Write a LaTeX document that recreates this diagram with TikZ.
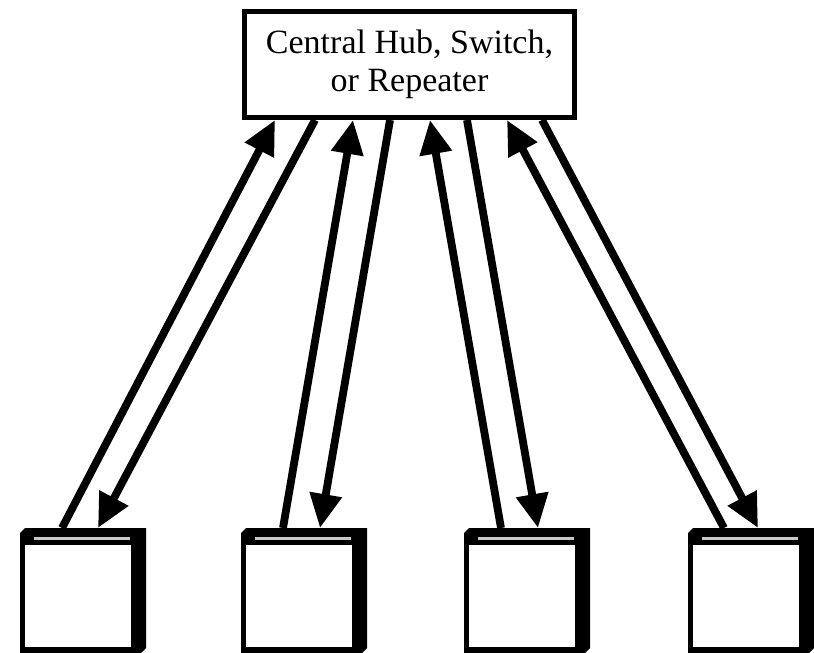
\documentclass[tikz,border=0pt]{standalone}
\usepackage{fontspec}
\setmainfont{Liberation Serif}
\usetikzlibrary{arrows.meta,calc}
\begin{document}
\begin{tikzpicture}[x=1pt,y=-1pt,
  hubbox/.style={draw=black,line width=5pt,fill=white,minimum width=330pt,minimum height=106pt,inner sep=0pt,align=center,font=\fontsize{34}{38}\selectfont},
  term/.style={minimum width=126pt,minimum height=125pt,inner sep=0pt,outer sep=0pt},
  link/.style={line width=7.8pt,-{Triangle[length=34pt,width=31pt]}},
  hilite/.style={draw={rgb,255:red,200;green,200;blue,200},line width=3pt}
]
\useasboundingbox (0,0) rectangle (814,653);
\node[hubbox] (hub) at (409.5,64.5) {Central Hub, Switch,\\or Repeater};
\node[term] (t1) at (83,590.5) {};
\node[term] (t2) at (304,590.5) {};
\node[term] (t3) at (527,590.5) {};
\node[term] (t4) at (751,590.5) {};
\foreach \t in {t1,t2,t3,t4}{
  \fill[black] ($(\t.north west)+(0,5)$) -- ($(\t.north west)+(5,0)$) -- (\t.north east)
     -- ($(\t.south east)+(0,-5)$) -- ($(\t.south east)+(-5,0)$) -- (\t.south west) -- cycle;
  \fill[white] ($(\t.north west)+(5,17)$) rectangle ($(\t.south east)+(-15,-6)$);
  \draw[hilite] ($(\t.north west)+(14,10.5)$) -- ($(\t.north east)+(-16,10.5)$);
}
% terminal 1
\draw[link] ([xshift=42pt]t1.north west) -- ([xshift=33pt]hub.south west);
\draw[link] ([xshift=73pt]hub.south west) -- ([xshift=78pt]t1.north west);
% terminal 2
\draw[link] ([xshift=42pt]t2.north west) -- ([xshift=111pt]hub.south west);
\draw[link] ([xshift=148pt]hub.south west) -- ([xshift=79pt]t2.north west);
% terminal 3
\draw[link] ([xshift=37pt]t3.north west) -- ([xshift=188pt]hub.south west);
\draw[link] ([xshift=225pt]hub.south west) -- ([xshift=74pt]t3.north west);
% terminal 4
\draw[link] ([xshift=36pt]t4.north west) -- ([xshift=265pt]hub.south west);
\draw[link] ([xshift=300pt]hub.south west) -- ([xshift=70pt]t4.north west);
\end{tikzpicture}
\end{document}
